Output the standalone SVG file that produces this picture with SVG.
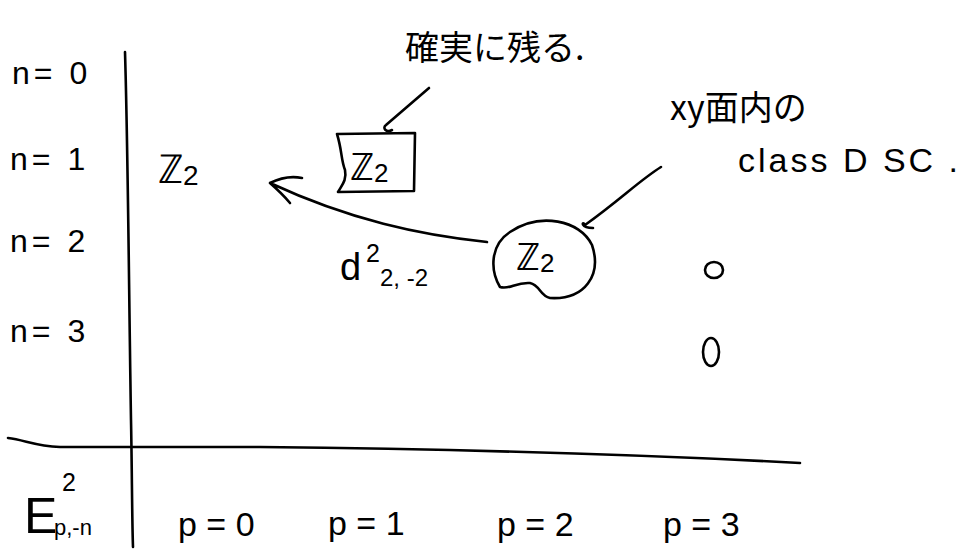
<svg xmlns="http://www.w3.org/2000/svg" width="972" height="549" viewBox="0 0 972 549">
<style>
.t{font-family:"Liberation Sans","Noto Sans CJK JP",sans-serif;fill:#000;font-size:30px}
.j{font-family:"Noto Sans CJK JP","Liberation Sans",sans-serif;fill:#000;font-size:32px}
.s{font-size:25px}
.b{font-size:34px}
.r{font-size:32px;letter-spacing:4px}
.ln{fill:none;stroke:#000;stroke-width:2.6;stroke-linecap:round;stroke-linejoin:round}
</style>
<rect width="972" height="549" fill="#fff"/>
<g id="axes">
<path class="ln" d="M125,52 C128,150 129,300 131,420 C132,470 132,520 133,547"/>
<path class="ln" d="M8,438 C25,440 35,446 60,447 L260,447 C450,449 650,455 800,463"/>
</g>
<g id="row-labels">
<text class="t r" x="12" y="84">n= 0</text>
<text class="t r" x="10" y="170">n= 1</text>
<text class="t r" x="10" y="252">n= 2</text>
<text class="t r" x="10" y="342">n= 3</text>
</g>
<g id="col-labels">
<text class="t" x="24" y="533" style="font-size:50px">E</text>
<text class="t s" x="62" y="491">2</text>
<text class="t" x="54" y="535" style="font-size:22px">p,-n</text>
<text class="t b" x="178" y="536">p = 0</text>
<text class="t b" x="328" y="535">p = 1</text>
<text class="t b" x="497" y="536">p = 2</text>
<text class="t b" x="663" y="536">p = 3</text>
</g>
<g id="z2-origin">
<text class="t" x="158" y="183" style="font-size:40px">ℤ<tspan style="font-size:28px" dy="2">2</tspan></text>
</g>
<g id="z2-boxed">
<path class="ln" d="M337,134 L415,133 L414,191 L338,192 C342,185 347,180 345,170 C341,160 342,150 337,134 Z"/>
<text class="t" x="350" y="180" style="font-size:38px">ℤ<tspan style="font-size:26px" dy="2">2</tspan></text>
</g>
<g id="z2-circled">
<path class="ln" d="M510,232 C540,212 580,220 592,245 C602,275 585,300 550,298 C540,296 540,285 530,283 C515,282 510,290 500,287 C490,270 490,245 510,232 Z"/>
<text class="t" x="516" y="270" style="font-size:38px">ℤ<tspan style="font-size:26px" dy="2">2</tspan></text>
</g>
<g id="zeros">
<ellipse class="ln" cx="714" cy="270" rx="9" ry="8"/>
<ellipse class="ln" cx="711" cy="352" rx="8" ry="14"/>
</g>
<g id="notes">
<text class="j" x="405" y="60" style="font-size:34px">確実に残る.</text>
<text class="j" x="670" y="120" style="font-size:34px">xy面内の</text>
<text class="t" x="738" y="172" style="font-size:34px;letter-spacing:3px">class D SC .</text>
</g>
<g id="connectors">
<path class="ln" d="M429,88 C415,100 400,113 386,125 C382,128 386,133 392,130"/>
<path class="ln" d="M661,167 C640,180 620,200 585,225 C582,220 580,228 593,228"/>
<path class="ln" d="M487,242 C420,235 350,220 270,183 M270,183 C280,178 292,176 302,178 M270,183 C278,190 285,197 290,203"/>
<text class="t" x="340" y="280" style="font-size:38px">d</text>
<text class="t s" x="366" y="262">2</text>
<text class="t" x="380" y="286" style="font-size:24px">2, -2</text>
</g>
</svg>
